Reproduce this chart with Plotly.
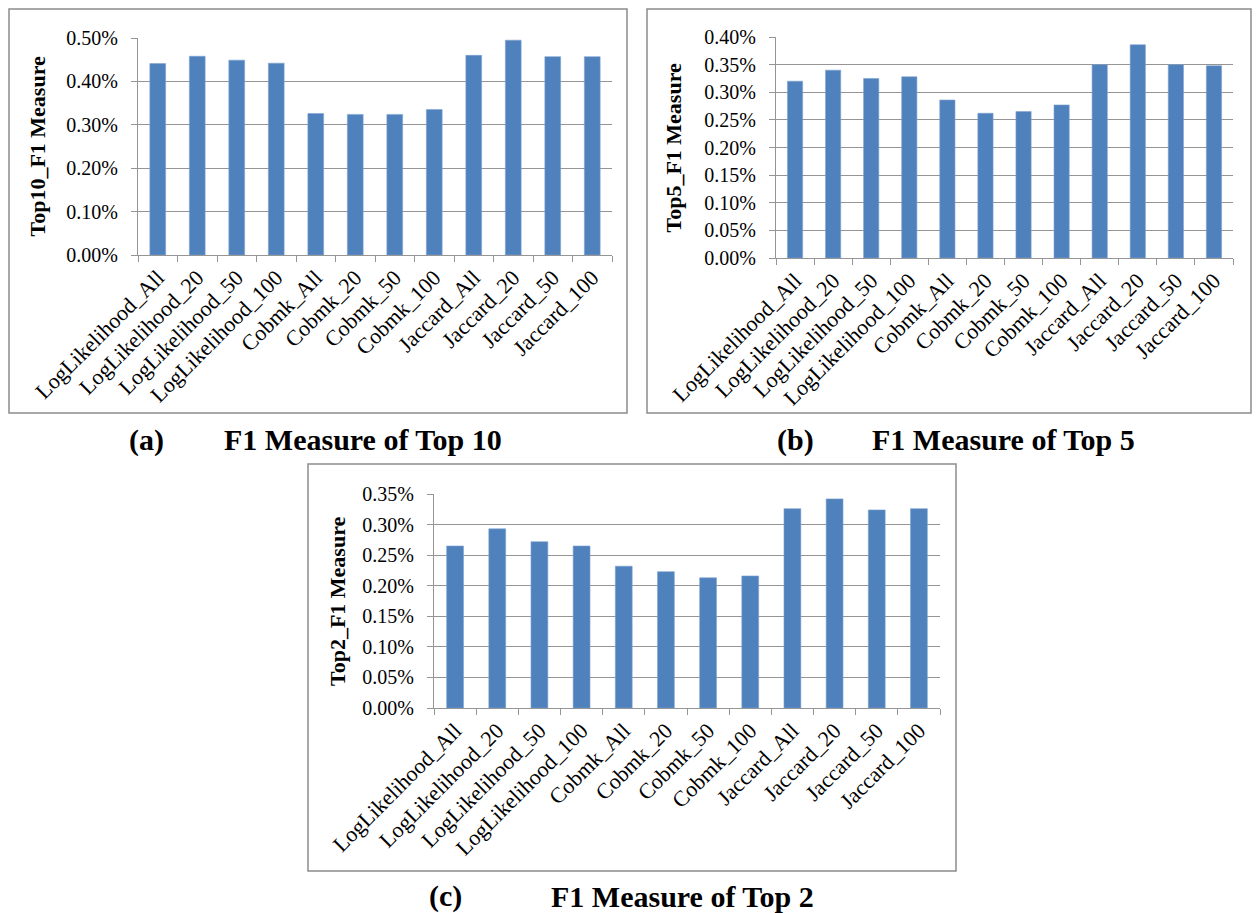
import plotly.graph_objects as go

categories = ["LogLikelihood_All", "LogLikelihood_20", "LogLikelihood_50", "LogLikelihood_100",
              "Cobmk_All", "Cobmk_20", "Cobmk_50", "Cobmk_100",
              "Jaccard_All", "Jaccard_20", "Jaccard_50", "Jaccard_100"]

top10_f1 = [0.441, 0.458, 0.449, 0.442, 0.326, 0.324, 0.324, 0.335, 0.460, 0.495, 0.457, 0.457]
top5_f1 = [0.320, 0.340, 0.325, 0.328, 0.286, 0.262, 0.265, 0.277, 0.350, 0.386, 0.350, 0.348]
top2_f1 = [0.265, 0.293, 0.272, 0.265, 0.232, 0.223, 0.213, 0.216, 0.326, 0.342, 0.324, 0.326]

y_titles = ["Top10_F1 Measure", "Top5_F1 Measure", "Top2_F1 Measure"]
caption_letters = ["(a)", "(b)", "(c)"]
caption_texts = ["F1 Measure of Top 10", "F1 Measure of Top 5", "F1 Measure of Top 2"]

# page body has an 8px margin; figure sized to fit the 1260x913 window
OX, OY = 8, 8
W, H = 1252, 905
BAR = "#4F81BD"
GRID = "#959595"
FONT = "Liberation Serif"


def px(x):
    return (x - OX) / W


def py(y):
    return 1 - (y - OY) / H


# plot areas in window pixels: (left, top, right, bottom)
areas = [(138, 38, 612, 255), (776, 37, 1233, 258), (434, 494, 940, 708)]
boxes = [(9, 9, 627, 413), (647, 9, 1251, 413), (308, 464, 956, 871)]
yranges = [(0.5, 0.1), (0.4, 0.05), (0.35, 0.05)]
series = [top10_f1, top5_f1, top2_f1]
ytitle_x = [37, 673, 337]
caption_pos = [((127, 440), (222, 440)), ((775, 440), (870, 440)), ((427, 896), (549, 896))]

fig = go.Figure()
layout = dict(
    template="none",
    width=W, height=H, autosize=False,
    margin=dict(l=0, r=0, t=0, b=0, pad=0),
    paper_bgcolor="white", plot_bgcolor="white",
    showlegend=False, bargap=0.6,
    font=dict(family=FONT, size=20, color="black"),
)
shapes = []
annotations = []

for i in range(3):
    xa = "x" if i == 0 else f"x{i+1}"
    ya = "y" if i == 0 else f"y{i+1}"
    fig.add_trace(go.Bar(x=categories, y=series[i], xaxis=xa, yaxis=ya,
                         marker=dict(color=BAR, line=dict(color="#7FA3D0", width=0.6)),
                         hoverinfo="x+y"))
    l, t, r, b = areas[i]
    ymax, dt = yranges[i]
    xkey = "xaxis" if i == 0 else f"xaxis{i+1}"
    ykey = "yaxis" if i == 0 else f"yaxis{i+1}"
    layout[xkey] = dict(
        domain=[px(l), px(r)], anchor=ya, type="category", automargin=False,
        tickangle=-45, ticks="outside", tickson="boundaries", ticklen=6,
        tickcolor=GRID, showline=True, linecolor=GRID, linewidth=1.2,
        showgrid=False, tickfont=dict(family=FONT, size=22, color="black"),
    )
    layout[ykey] = dict(
        domain=[py(b), py(t)], anchor=xa, range=[0, ymax], dtick=dt, automargin=False,
        tickformat=".2f", ticksuffix="%", ticks="outside", ticklen=6,
        ticklabelstandoff=9,
        tickcolor=GRID, showline=True, linecolor=GRID, linewidth=1.2,
        showgrid=True, gridcolor=GRID, gridwidth=1.2, zeroline=False,
        tickfont=dict(family=FONT, size=20, color="black"),
    )
    bl, bt, br, bb = boxes[i]
    shapes.append(dict(type="rect", xref="paper", yref="paper",
                       x0=px(bl), x1=px(br), y0=py(bb), y1=py(bt),
                       line=dict(color="#8C8C8C", width=1.5), layer="below"))
    annotations.append(dict(
        text=f"<b>{y_titles[i]}</b>", xref="paper", yref="paper",
        x=px(ytitle_x[i]), y=py((t + b) / 2), textangle=-90, showarrow=False,
        xanchor="center", yanchor="middle",
        font=dict(family=FONT, size=22, color="black")))
    (lx, ly), (tx, ty) = caption_pos[i]
    annotations.append(dict(
        text=f"<b>{caption_letters[i]}</b>", xref="paper", yref="paper",
        x=px(lx), y=py(ly), xanchor="left", yanchor="middle", showarrow=False,
        font=dict(family=FONT, size=30, color="black")))
    annotations.append(dict(
        text=f"<b>{caption_texts[i]}</b>", xref="paper", yref="paper",
        x=px(tx), y=py(ty), xanchor="left", yanchor="middle", showarrow=False,
        font=dict(family=FONT, size=30, color="black")))

layout["shapes"] = shapes
layout["annotations"] = annotations
fig.update_layout(**layout)
fig.write_html("out.html")
